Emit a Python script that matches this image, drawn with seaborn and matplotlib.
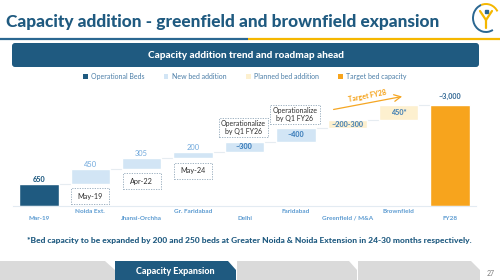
import matplotlib
matplotlib.use("Agg")
import matplotlib.pyplot as plt
from matplotlib.patches import FancyBboxPatch, Rectangle, Polygon, Arc, Patch
import seaborn as sns
import pandas as pd

# ---------------- data ----------------
categories = ["Mar-19", "Noida Ext.", "Jhansi-Orchha", "Gr. Faridabad", "Delhi",
              "Faridabad", "Greenfield / M&A", "Brownfield", "FY28"]
bed_values = [650, 450, 305, 200, 300, 400, 250, 450, 3000]
bar_kinds = ["Operational Beds", "New bed addition", "New bed addition", "New bed addition",
             "New bed addition", "New bed addition", "Planned bed addition",
             "Planned bed addition", "Target bed capacity"]
value_labels = ["650", "450", "305", "200", "~300", "~400", "~200-300", "450*", "~3,000"]
legend_labels = ["Operational Beds", "New bed addition", "Planned bed addition", "Target bed capacity"]
date_labels = {1: "May-19", 2: "Apr-22", 3: "May-24"}
ops_labels = {4: "Operationalize\nby Q1 FY26", 5: "Operationalize\nby Q1 FY26"}
title = "Capacity addition - greenfield and brownfield expansion"
banner = "Capacity addition trend and roadmap ahead"
footnote = ("*Bed capacity to be expanded by 200 and 250 beds at Greater Noida & "
            "Noida Extension in 24-30 months respectively.")
tab_labels = ["", "Capacity Expansion", "", ""]
page_number = "27"
target_text = "Target FY28"

# ---------------- style ----------------
sns.set_theme(style="white")
plt.rcParams["font.family"] = ["Lato", "DejaVu Sans"]

DARK = "#1F5A80"
colors = {"Operational Beds": "#1F5A80", "New bed addition": "#D2E5F5",
          "Planned bed addition": "#FDF0CF", "Target bed capacity": "#F7A41D"}

df = pd.DataFrame({"category": categories, "beds": bed_values, "kind": bar_kinds})
starts, run = [], 0
for v, k in zip(bed_values, bar_kinds):
    if k in ("Operational Beds", "Target bed capacity"):
        starts.append(0)
        run = v if k == "Operational Beds" else run
    else:
        starts.append(run)
        run += v
df["start"] = starts
df["top"] = df["start"] + df["beds"]

fig = plt.figure(figsize=(5, 2.8), dpi=100)
renderer = fig.canvas.get_renderer()

bg = fig.add_axes([0, 0, 1, 1], zorder=0)
bg.set_xlim(0, 500)
bg.set_ylim(280, 0)
bg.axis("off")

def fit(t, w):
    bb = t.get_window_extent(renderer)
    t.set_fontsize(t.get_fontsize() * w / bb.width)

# header
t = bg.text(6, 22, title, color=DARK, fontweight="black", fontsize=12, va="center", ha="left")
fit(t, 434)
bg.plot([0, 248], [38.5, 38.5], color="#2B6791", lw=1.6, solid_capstyle="butt")
bg.plot([248, 500], [38.5, 38.5], color="#F5B700", lw=1.6, solid_capstyle="butt")
# logo
bg.add_patch(Arc((486, 18), 26, 28, theta1=60, theta2=250, color="#2B6791", lw=1.4))
bg.add_patch(Arc((486, 18), 26, 28, theta1=250, theta2=330, color="#F5B700", lw=1.4))
bg.plot([480, 486, 492], [11, 20, 11], color="#F5B700", lw=1.6)
bg.plot([486, 486], [20, 28], color="#F5B700", lw=1.6)
bg.add_patch(Rectangle((484.5, 10), 3, 3, color="#2B6791"))

bg.add_patch(FancyBboxPatch((12, 43), 467, 24, boxstyle="round,pad=0,rounding_size=3",
                            facecolor=DARK, edgecolor="none"))
t = bg.text(245.5, 55, banner, color="white", fontweight="black", fontsize=7, va="center", ha="center")
fit(t, 197)

# footnote
t = bg.text(249, 241, footnote, color=DARK, fontweight="black", fontsize=6, va="center", ha="center")
fit(t, 446)

# bottom tabs
tab_x = [(0, 105, 115), (115, 228, 236), (237, 349, 357), (358, 471, 480)]
for (x0, xs, x1), lab in zip(tab_x, tab_labels):
    col = DARK if lab else "#DADADA"
    bg.add_patch(Polygon([(x0, 261), (xs, 261), (x1, 270), (x1, 280), (x0, 280)],
                         closed=True, facecolor=col, edgecolor="none"))
    if lab:
        bg.text((x0 + x1) / 2, 272, lab, color="white", fontweight="black", fontsize=6.5,
                va="center", ha="center")
bg.text(491, 273, page_number, color="#808080", fontsize=5, va="center", ha="center")

# ---------------- chart ----------------
base_px, full_px = 205.5, 80.0
u_per_px = 3000 / 100.5
ax = fig.add_axes([13.2 / 500, (280 - base_px) / 280, 462.6 / 500, (base_px - full_px) / 280], zorder=1)
ax.patch.set_alpha(0)

bw = 0.77
for _, r in df.iterrows():
    sns.barplot(x=[r["category"]], y=[r["beds"]], order=categories, color=colors[r["kind"]],
                bottom=r["start"], width=bw, saturation=1, errorbar=None, ax=ax, zorder=2)

# connectors
for i in range(len(df) - 1):
    ax.hlines(df["top"][i], i + bw / 2, i + 1 - bw / 2, color="#E6ECF1", lw=0.8, zorder=1)

ax.set_xlim(-0.5, 8.5)
ax.set_ylim(0, (base_px - full_px) * u_per_px)
ax.set_xlabel("")
ax.set_ylabel("")
ax.set_yticks([])
ax.set_xticks(range(len(categories)))
ax.set_xticklabels(categories, color="#5C9BD1", fontweight="bold", fontsize=4.6)
ax.tick_params(axis="x", length=0)
for i, tk in enumerate(ax.xaxis.get_major_ticks()):
    tk.set_pad(2.4 if i % 2 else 7.5)
for s in ["top", "left", "right"]:
    ax.spines[s].set_visible(False)
ax.spines["bottom"].set_color("#E3EBF2")
ax.spines["bottom"].set_linewidth(0.8)

# value labels
for i, r in df.iterrows():
    k = r["kind"]
    if k == "Operational Beds":
        ax.annotate(value_labels[i], (i, r["top"]), xytext=(0, 3), textcoords="offset points",
                    ha="center", va="center", color=DARK, fontweight="black", fontsize=5.2)
    elif k == "Target bed capacity":
        ax.annotate(value_labels[i], (i, r["top"]), xytext=(0, 6.5), textcoords="offset points",
                    ha="center", va="center", color="#3A6E99", fontweight="black", fontsize=5.2)
    elif i in date_labels:
        ax.annotate(value_labels[i], (i, r["top"]), xytext=(0, 3.2), textcoords="offset points",
                    ha="center", va="center", color="#6FA8DC", fontsize=5.4)
    else:
        c = "#3D7EBB" if k == "New bed addition" else "#4A84B5"
        ax.text(i, (r["start"] + r["top"]) / 2, value_labels[i], ha="center", va="center",
                color=c, fontweight="black", fontsize=5.2, zorder=3)

# date boxes
for i, lab in date_labels.items():
    s = df["start"][i]
    y0, y1 = s - 20.5 * u_per_px, s - 4.5 * u_per_px
    ax.add_patch(Rectangle((i - 0.37, y0), 0.74, y1 - y0, fill=False, edgecolor="#8FA6B8",
                           lw=0.6, linestyle=(0, (1.5, 1.5)), zorder=3))
    ax.text(i, (y0 + y1) / 2, lab, ha="center", va="center", color="#2E2E2E", fontsize=5.2, zorder=3)

# operationalize boxes
for i, lab in ops_labels.items():
    tp = df["top"][i]
    y0, y1 = tp + 4.5 * u_per_px, tp + 23.5 * u_per_px
    ax.add_patch(Rectangle((i - 0.5, y0), 0.96, y1 - y0, facecolor="white", edgecolor="#8FA6B8",
                           lw=0.6, linestyle=(0, (1.5, 1.5)), zorder=3 + i))
    ax.text(i - 0.02, (y0 + y1) / 2, lab, ha="center", va="center", color="#2E2E2E",
            fontsize=5.0, linespacing=1.1, zorder=3 + i)

# target arrow
ax.annotate("", xy=(7.12, 3269), xytext=(5.68, 2851),
            arrowprops=dict(arrowstyle="->", color="#F5A623", lw=0.9))
ax.text(6.38, 3284, target_text, rotation=11, color="#F5A623", fontweight="black", fontsize=5,
        ha="center", va="center")

# legend
handles = [Patch(facecolor=colors[k], edgecolor="none") for k in legend_labels]
fig.legend(handles, legend_labels, loc="center", bbox_to_anchor=(245 / 500, 1 - 76.7 / 280),
           ncol=4, frameon=False, fontsize=5.0, labelcolor="#4C7FA8", handlelength=0.65,
           handleheight=0.65, handletextpad=0.5, columnspacing=2.8)

fig.savefig("out.png", dpi=100)
